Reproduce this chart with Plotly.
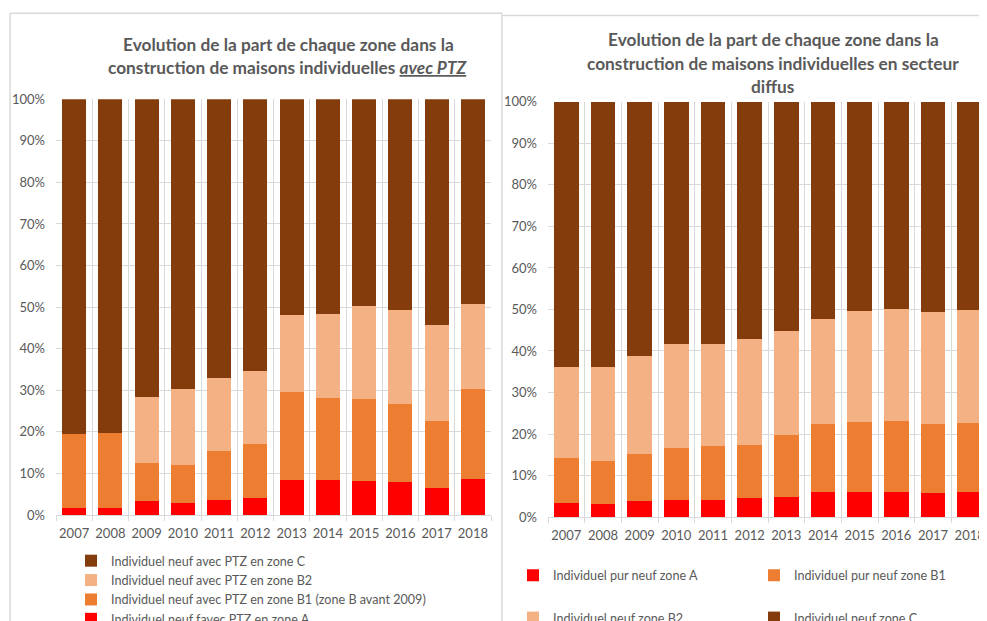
import plotly.graph_objects as go
from plotly.subplots import make_subplots

# The snapshot keeps the page 1:1 across but squeezes it a little in height,
# after the body's 8px margin. Positions below are screen pixels of the reference.
SY = 0.967
OFF = 8
W, H = 1004, 626

years = [str(y) for y in range(2007, 2019)]

# Left chart : houses built with PTZ, share per zone (%)
ptz_a = [1.7, 1.7, 3.3, 2.9, 3.7, 4.0, 8.4, 8.4, 8.2, 8.0, 6.4, 8.7]
ptz_b1 = [17.7, 18.1, 9.2, 9.1, 11.7, 13.1, 21.3, 19.8, 19.6, 18.6, 16.1, 21.7]
ptz_b2 = [0.0, 0.0, 16.0, 18.2, 17.5, 17.5, 18.3, 20.2, 22.4, 22.7, 23.2, 20.4]
ptz_c = [80.6, 80.2, 71.5, 69.8, 67.1, 65.4, 52.0, 51.6, 49.8, 50.7, 54.3, 49.2]

# Right chart : houses built in "secteur diffus", share per zone (%)
dif_a = [3.5, 3.1, 3.8, 4.0, 4.2, 4.5, 4.9, 6.1, 6.1, 6.1, 5.7, 6.1]
dif_b1 = [10.7, 10.5, 11.5, 12.7, 12.9, 12.9, 14.8, 16.3, 16.9, 17.1, 16.7, 16.6]
dif_b2 = [21.9, 22.5, 23.6, 25.1, 24.6, 25.6, 25.2, 25.4, 26.6, 27.0, 27.0, 27.1]
dif_c = [63.9, 63.9, 61.1, 58.2, 58.3, 57.0, 55.1, 52.2, 50.4, 49.8, 50.6, 50.2]

ptz_names = ["Individuel neuf favec PTZ en zone A",
             "Individuel neuf avec PTZ en zone B1 (zone B avant 2009)",
             "Individuel neuf avec PTZ en zone B2",
             "Individuel neuf avec PTZ en zone C"]
dif_names = ["Individuel pur neuf zone A", "Individuel pur neuf zone B1",
             "Individuel neuf zone B2", "Individuel neuf zone C"]

colors = ["#FF0000", "#ED7D31", "#F4B183", "#843C0C"]
grey = "#595959"
grid = "#D9D9D9"
FONT = "Lato"


def px(x):
    return min(1.0, (x - OFF) / W)


def py(y):
    return max(0.0, 1 - (y / SY - OFF) / H)


fig = make_subplots(rows=1, cols=2)

for vals, name, col in zip([ptz_a, ptz_b1, ptz_b2, ptz_c], ptz_names, colors):
    fig.add_trace(go.Bar(x=years, y=vals, name=name, marker_color=col,
                         marker_line_width=0, legend="legend"), row=1, col=1)

dif_legends = ["legend2", "legend2", "legend3", "legend3"]
for vals, name, col, lg in zip([dif_a, dif_b1, dif_b2, dif_c], dif_names, colors, dif_legends):
    fig.add_trace(go.Bar(x=years, y=vals, name=name, marker_color=col,
                         marker_line_width=0, legend=lg), row=1, col=2)

fig.update_xaxes(type="category", tickson="boundaries", showgrid=True, gridcolor=grid,
                 ticks="outside", ticklen=5, tickcolor=grid, showline=True, linecolor=grid,
                 tickangle=0, ticklabelstandoff=6,
                 tickfont=dict(family=FONT, size=13, color=grey), automargin=False)
fig.update_yaxes(range=[0, 100], dtick=10, ticksuffix="%", showgrid=True, gridcolor=grid,
                 zeroline=False, ticklabelstandoff=10,
                 tickfont=dict(family=FONT, size=13, color=grey), automargin=False)

fig.update_layout(
    xaxis=dict(domain=[px(56), px(491)]),
    yaxis=dict(domain=[py(498), py(96)]),
    xaxis2=dict(domain=[px(548), px(988)]),
    yaxis2=dict(domain=[py(500), py(98.5)]),
)

# titles, one annotation per line to keep Excel's line spacing
title_lines = [
    (288, 43, "Evolution de la part de chaque zone dans la"),
    (288, 65, "construction de maisons individuelles <i><u>avec PTZ</u></i>"),
    (773, 38, "Evolution de la part de chaque zone dans la"),
    (773, 61, "construction de maisons individuelles en secteur"),
    (773, 84, "diffus"),
]
for x, y, txt in title_lines:
    fig.add_annotation(x=px(x), y=py(y), xref="paper", yref="paper", text="<b>" + txt + "</b>",
                       showarrow=False, xanchor="center", yanchor="middle",
                       font=dict(family=FONT, size=17.3, color=grey))

# chart frames
frame = dict(color=grid, width=1.5)
frame_lines = [
    (10, 12.7, 502, 12.7),    # left chart top
    (10, 12.7, 10, 640),      # left chart left side
    (502, 12.7, 502, 640),    # shared side
    (502, 15, 1010, 15),      # right chart top
]
for x0, y0, x1, y1 in frame_lines:
    fig.add_shape(type="line", xref="paper", yref="paper",
                  x0=px(x0), y0=py(y0), x1=px(x1), y1=py(y1), line=frame)

legend_font = dict(family=FONT, size=12.6, color=grey)
fig.update_layout(
    width=W, height=H,
    margin=dict(l=0, r=0, t=0, b=0),
    plot_bgcolor="white", paper_bgcolor="white",
    barmode="stack", bargap=0.335,
    legend=dict(x=px(71), y=py(528), xanchor="left", yanchor="top", traceorder="reversed",
                font=legend_font, bgcolor="rgba(0,0,0,0)"),
    legend2=dict(x=px(513), y=py(542), xanchor="left", yanchor="top", orientation="h",
                 traceorder="normal", entrywidth=196, font=legend_font, bgcolor="rgba(0,0,0,0)"),
    legend3=dict(x=px(513), y=py(583), xanchor="left", yanchor="top", orientation="h",
                 traceorder="normal", entrywidth=196, font=legend_font, bgcolor="rgba(0,0,0,0)"),
)

fig.write_html("out.html")
